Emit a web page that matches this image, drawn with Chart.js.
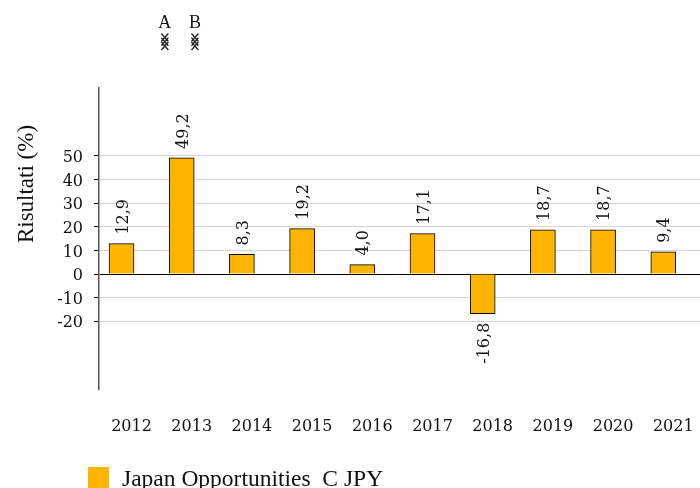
<!DOCTYPE html>
<html>
<head>
<meta charset="utf-8">
<script src="https://cdn.jsdelivr.net/npm/chart.js@4/dist/chart.umd.min.js"></script>
<style>
html,body{margin:0;padding:0;background:#fff;overflow:hidden}
#wrap{position:relative;width:700px;height:488px}
</style>
</head>
<body>
<div id="wrap"><canvas id="myChart" width="700" height="488"></canvas></div>
<script>
const anni = [2012,2013,2014,2015,2016,2017,2018,2019,2020,2021];
const risultati = [12.9,49.2,8.3,19.2,4.0,17.1,-16.8,18.7,18.7,9.4];
const tickY = [-20,-10,0,10,20,30,40,50];
const nomeSerie = 'Japan Opportunities  C JPY';
const marcatori = [
    {label:'A', x:2012.72},
    {label:'B', x:2013.22}
];
const marcatoriY = [96.6,98.4,100.2];

const serif = '"DejaVu Serif", serif';
const times = '"Liberation Serif", serif';

const testi = {
    id: 'testi',
    afterDatasetsDraw(chart) {
        const ctx = chart.ctx;
        const meta = chart.getDatasetMeta(0);
        ctx.save();
        ctx.fillStyle = '#111';
        // etichette dei valori
        ctx.font = '16px ' + serif;
        ctx.textBaseline = 'middle';
        meta.data.forEach(function(bar, i) {
            const v = risultati[i];
            ctx.save();
            ctx.translate(bar.x + 2, bar.y + (v < 0 ? 9 : -9));
            ctx.rotate(-Math.PI / 2);
            ctx.textAlign = v < 0 ? 'right' : 'left';
            ctx.fillText(v.toFixed(1).replace('.', ','), 0, 0);
            ctx.restore();
        });
        // titolo asse y
        ctx.save();
        ctx.font = '23px ' + times;
        ctx.textAlign = 'center';
        ctx.translate(27, 184);
        ctx.rotate(-Math.PI / 2);
        ctx.fillText('Risultati (%)', 0, 0);
        ctx.restore();
        // A e B con i loro segni
        ctx.textAlign = 'center';
        marcatori.forEach(function(m) {
            const px = chart.scales.x.getPixelForValue(m.x);
            ctx.font = '18px ' + times;
            ctx.fillStyle = '#111';
            ctx.fillText(m.label, px, 23);
            ctx.strokeStyle = '#222';
            ctx.lineWidth = 1.3;
            marcatoriY.forEach(function(v) {
                const py = chart.scales.y.getPixelForValue(v);
                ctx.beginPath();
                ctx.moveTo(px - 3.5, py - 4);
                ctx.lineTo(px + 3.5, py + 4);
                ctx.moveTo(px + 3.5, py - 4);
                ctx.lineTo(px - 3.5, py + 4);
                ctx.stroke();
            });
        });
        // legenda
        ctx.fillStyle = '#FFB400';
        ctx.fillRect(88, 467, 21, 21);
        ctx.fillStyle = '#111';
        ctx.font = '23.5px ' + times;
        ctx.textAlign = 'left';
        ctx.fillText(nomeSerie, 122, 480);
        ctx.restore();
    }
};

const ctx = document.getElementById('myChart').getContext('2d');
const myChart = new Chart(ctx, {
    data: {
        datasets: [
            {
                type: 'bar',
                label: nomeSerie,
                data: anni.map((a, i) => ({x: a, y: risultati[i]})),
                backgroundColor: '#FFB400',
                borderColor: '#000',
                borderWidth: 1,
                barThickness: 25
            }
        ]
    },
    options: {
        responsive: false,
        animation: false,
        layout: {padding: {top: 88, left: 0, right: 0, bottom: 0}},
        plugins: {
            legend: {display: false},
            tooltip: {enabled: false}
        },
        scales: {
            x: {
                type: 'linear',
                offset: false,
                min: 2011.626,
                max: 2021.61,
                afterBuildTicks: function(axis) {
                    axis.ticks = anni.map(a => ({value: a}));
                },
                afterFit: function(axis) {
                    axis.height = 99;
                    axis.paddingLeft = 0;
                    axis.paddingRight = 0;
                },
                grid: {display: false},
                border: {display: false},
                ticks: {
                    autoSkip: false,
                    maxRotation: 0,
                    padding: 20,
                    labelOffset: 10,
                    color: '#111',
                    font: {family: serif, size: 16},
                    callback: function(v) { return String(v); }
                }
            },
            y: {
                min: -48.7,
                max: 78.8,
                afterBuildTicks: function(axis) {
                    axis.ticks = tickY.map(v => ({value: v}));
                },
                afterFit: function(axis) { axis.width = 99; },
                border: {color: '#555', width: 1.5},
                grid: {
                    color: c => c.tick && c.tick.value === 0 ? '#000' : '#d4d4d4',
                    tickColor: '#000',
                    tickLength: 5
                },
                ticks: {
                    padding: 11,
                    labelOffset: 2,
                    color: '#111',
                    font: {family: serif, size: 16}
                }
            }
        }
    },
    plugins: [testi]
});
</script>
</body>
</html>
